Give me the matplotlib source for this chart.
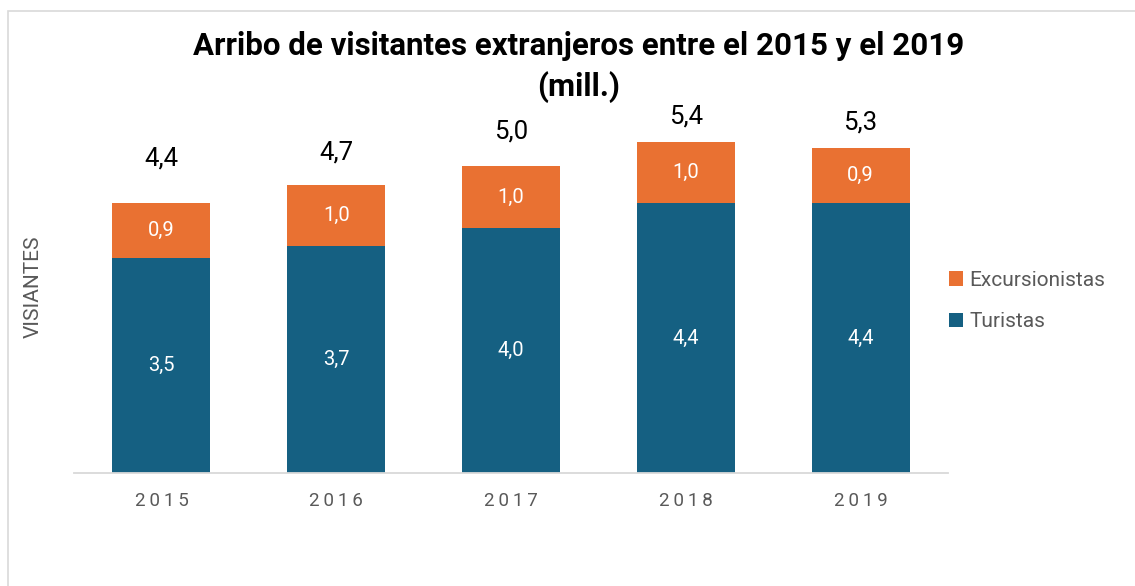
import matplotlib
matplotlib.use("Agg")
import matplotlib.pyplot as plt
from matplotlib.patches import Rectangle

# data (millions)
years = ["2015", "2016", "2017", "2018", "2019"]
turistas = [3.5, 3.7, 4.0, 4.4, 4.4]
excursionistas = [0.9, 1.0, 1.0, 1.0, 0.9]
totales = [4.4, 4.7, 5.0, 5.4, 5.3]

# gap between bar top and total label (as in the original layout)
label_gap = [0.72, 0.52, 0.57, 0.41, 0.42]

c_tur = "#156082"
c_exc = "#E97132"

W, H = 1135, 586
fig = plt.figure(figsize=(W / 100, H / 100), dpi=100)
plt.rcParams["font.family"] = ["Roboto", "DejaVu Sans"]

# light frame around the chart area
fig.patches.append(Rectangle((8 / W, -0.1), 1.2, (H - 11) / H + 0.1,
                             transform=fig.transFigure, fill=False,
                             edgecolor="#d9d9d9", linewidth=1.2))

ax = fig.add_axes([74 / W, (H - 473) / H, 874 / W, (473 - 105) / H])
x = range(len(years))
ax.bar(x, turistas, width=0.56, color=c_tur, label="Turistas")
ax.bar(x, excursionistas, width=0.56, bottom=turistas, color=c_exc,
       label="Excursionistas")

for i in x:
    ax.text(i, turistas[i] / 2, f"{turistas[i]:.1f}".replace(".", ","),
            ha="center", va="center", color="white", fontsize=14.5)
    ax.text(i, turistas[i] + excursionistas[i] / 2,
            f"{excursionistas[i]:.1f}".replace(".", ","),
            ha="center", va="center", color="white", fontsize=14.5)
    ax.text(i, totales[i] + label_gap[i], f"{totales[i]:.1f}".replace(".", ","),
            ha="center", va="center", color="black", fontsize=18.5)

ax.set_xlim(-0.5, 4.5)
ax.set_ylim(0, 6)
ax.set_yticks([])
ax.set_xticks(list(x))
ax.set_xticklabels(["\u2009".join(y) for y in years], color="#595959",
                   fontsize=13.5)
ax.tick_params(axis="x", length=0, pad=14)
for s in ["top", "right", "left"]:
    ax.spines[s].set_visible(False)
ax.spines["bottom"].set_color("#d9d9d9")
ax.spines["bottom"].set_linewidth(1.3)

fig.text(33 / W, 1 - 287 / H, "VISIANTES", rotation=90, ha="center",
         va="center", color="#595959", fontsize=15)

fig.text(579 / W, 1 - 67 / H,
         "Arribo de visitantes extranjeros entre el 2015 y el 2019\n(mill.)",
         ha="center", va="center", fontsize=22.5, fontweight="bold",
         linespacing=1.4)

handles, labels = ax.get_legend_handles_labels()
fig.legend(handles[::-1], labels[::-1], loc="center left",
           bbox_to_anchor=(930 / W, 1 - 301 / H), frameon=False,
           fontsize=15, labelcolor="#595959", handlelength=0.7,
           handleheight=0.7, handletextpad=0.3, labelspacing=1.1)

fig.savefig("out.png", dpi=100)
